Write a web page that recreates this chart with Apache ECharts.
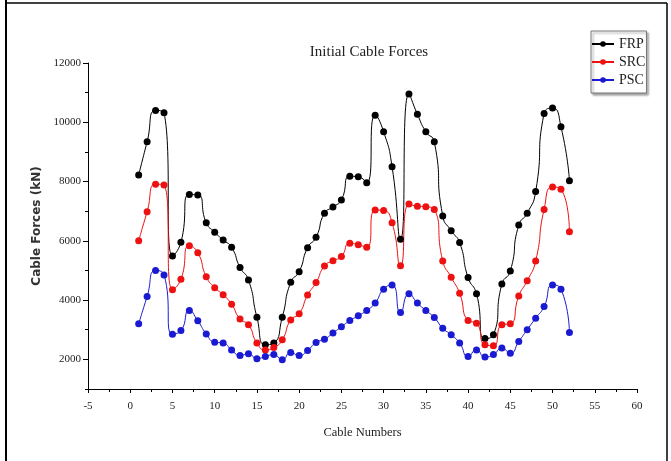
<!DOCTYPE html>
<html>
<head>
<meta charset="utf-8">
<script src="https://cdn.jsdelivr.net/npm/echarts@6/dist/echarts.min.js"></script>
<style>
html,body{margin:0;padding:0;background:#fff;}
#chart{width:671px;height:461px;}
</style>
</head>
<body>
<div id="chart"></div>
<script>
var cables = [1,2,3,4,5,6,7,8,9,10,11,12,13,14,15,16,17,18,19,20,21,22,23,24,25,26,27,28,29,30,31,32,33,34,35,36,37,38,39,40,41,42,43,44,45,46,47,48,49,50,51,52];
var frp = [8220,9340,10400,10320,5490,5950,7560,7550,6610,6290,6030,5780,5100,4680,3420,2490,2550,3420,4600,4960,5770,6120,6930,7140,7380,8180,8160,7960,10240,9680,8500,6050,10950,10270,9680,9340,6840,6340,5940,4760,4210,2700,2830,4540,4980,6530,6930,7660,10300,10480,9850,8030];
var src = [6000,6980,7910,7880,4350,4700,5830,5600,4790,4420,4180,3860,3360,3170,2550,2320,2400,2660,3330,3540,4170,4590,5150,5330,5470,5920,5870,5780,7040,7020,6610,5160,7240,7170,7150,7060,5320,4770,4230,3310,3220,2490,2460,3170,3200,4140,4650,5320,7060,7820,7740,6310];
var psc = [3200,4120,5000,4850,2850,2970,3650,3300,2860,2580,2550,2320,2130,2190,2020,2100,2160,1990,2230,2130,2300,2570,2680,2890,3100,3310,3470,3650,3900,4370,4510,3580,4210,3900,3650,3410,3050,2830,2550,2100,2320,2080,2160,2380,2210,2600,3000,3390,3780,4510,4370,2910];
var yTickLabels = [2000,4000,6000,8000,10000,12000];
var yMinorTicks = [1000,3000,5000,7000,9000,11000];
var seriesNames = ['FRP','SRC','PSC'];
var seriesColors = ['#000000','#ee1111','#1a1ad2'];

function pairs(vals){ return cables.map(function(c,i){ return [c, vals[i]]; }); }

var serif = 'Liberation Serif';
var chart = echarts.init(document.getElementById('chart'), null, {renderer:'canvas'});
var mkSeries = function(name, vals, color){
  return {
    name: name, type: 'line', data: pairs(vals), smooth: 0.6,
    symbol: 'circle', symbolSize: 7,
    lineStyle: {color: color, width: 1},
    itemStyle: {color: color},
    xAxisIndex: 0, yAxisIndex: 0
  };
};
chart.setOption({
  animation: false,
  backgroundColor: '#fff',
  title: {
    text: 'Initial Cable Forces',
    left: 364, top: 40, textAlign: 'center',
    textStyle: {fontFamily: serif, fontSize: 15, fontWeight: 'normal', color: '#222'}
  },
  legend: {
    data: seriesNames,
    orient: 'vertical', left: 591, top: 31,
    padding: [6, 1, 6, 0], itemGap: 4, itemWidth: 22, itemHeight: 7,
    textStyle: {fontFamily: serif, fontSize: 14, color: '#222'},
    borderColor: '#777', borderWidth: 1, backgroundColor: '#fff',
    shadowColor: 'rgba(0,0,0,0.35)', shadowBlur: 2, shadowOffsetX: 2, shadowOffsetY: 2
  },
  grid: {left: 88, right: 34, top: 63, bottom: 72, containLabel: false},
  xAxis: {
    type: 'value', min: -5, max: 60, interval: 5,
    name: 'Cable Numbers', nameLocation: 'middle', nameGap: 37,
    nameTextStyle: {fontFamily: serif, fontSize: 12.5, color: '#222'},
    axisLine: {show: true, onZero: false, lineStyle: {color: '#000', width: 1}},
    axisTick: {show: true, length: 4, lineStyle: {color: '#000'}},
    minorTick: {show: true, splitNumber: 2, length: 3, lineStyle: {color: '#000'}},
    axisLabel: {fontFamily: serif, fontSize: 11, color: '#222', margin: 12},
    splitLine: {show: false}
  },
  yAxis: [{
    type: 'value', min: 1000, max: 12000,
    name: 'Cable Forces (kN)', nameLocation: 'middle', nameGap: 31,
    nameTextStyle: {fontFamily: 'DejaVu Sans', fontSize: 12, fontWeight: 'bold', color: '#333'},
    axisLine: {show: true, onZero: false, lineStyle: {color: '#000', width: 1}},
    axisTick: {show: true, length: 5, customValues: yTickLabels, lineStyle: {color: '#000'}},
    axisLabel: {fontFamily: serif, fontSize: 11, color: '#222', margin: 7, customValues: yTickLabels,
      formatter: function(v){ return String(v); }},
    splitLine: {show: false}
  },{
    type: 'value', min: 1000, max: 12000, position: 'left', offset: 0,
    axisLine: {show: false, onZero: false},
    axisTick: {show: true, length: 3, customValues: yMinorTicks, lineStyle: {color: '#000'}},
    axisLabel: {show: false},
    splitLine: {show: false}
  }],
  graphic: [
    {type: 'line', shape: {x1: 6, y1: 0, x2: 6, y2: 461}, style: {stroke: '#000', lineWidth: 2}},
    {type: 'line', shape: {x1: 6, y1: 3, x2: 667, y2: 3}, style: {stroke: '#000', lineWidth: 1.5}},
    {type: 'line', shape: {x1: 667, y1: 3, x2: 667, y2: 461}, style: {stroke: '#000', lineWidth: 1.5}}
  ],
  series: [
    mkSeries('FRP', frp, seriesColors[0]),
    mkSeries('SRC', src, seriesColors[1]),
    mkSeries('PSC', psc, seriesColors[2])
  ]
});
</script>
</body>
</html>
